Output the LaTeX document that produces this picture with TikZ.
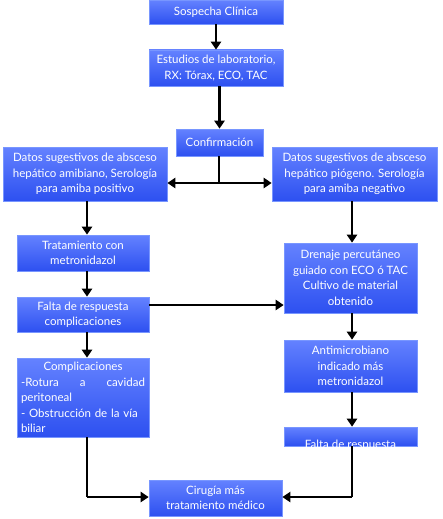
\documentclass[tikz,border=0pt]{standalone}
\usepackage{fontspec}
\setmainfont{Lato}
\usetikzlibrary{arrows.meta,calc}
\definecolor{boxtop}{RGB}{100,130,255}
\definecolor{boxbot}{RGB}{45,80,240}
\definecolor{boxline}{RGB}{120,150,255}
\tikzset{
  bx/.style={draw=boxline, line width=0.6pt, top color=boxtop, bottom color=boxbot,
    text=white, font=\fontsize{11.5}{15.5}\selectfont, align=center,
    inner sep=0pt, minimum width=#1},
  arr/.style={line width=2.2pt, -{Triangle[length=8pt,width=10pt]}},
  ln/.style={line width=2.2pt},
}
\begin{document}
\begin{tikzpicture}[x=1pt,y=1pt]
\useasboundingbox (0,0) rectangle (442,-519);
\node[bx=134pt, minimum height=24pt] (s1) at (216,-12) {Sospecha Clínica};
\node[bx=134pt, minimum height=36pt] (s2) at (216,-68) {Estudios de laboratorio,\\RX: Tórax, ECO, TAC};
\node[bx=87pt, minimum height=27pt] (conf) at (219.5,-142.5) {Confirmación};
\node[bx=164pt, minimum height=54pt] (L1) at (85,-174) {Datos sugestivos de absceso\\hepático amibiano, Serología\\para amiba positivo};
\node[bx=165pt, minimum height=54pt] (R1) at (354.5,-174) {Datos sugestivos de absceso\\hepático piógeno. Serología\\para amiba negativo};
\node[bx=132pt, minimum height=36pt] (L2) at (83,-253) {Tratamiento con\\metronidazol};
\node[bx=132pt, minimum height=35pt] (L3) at (83,-314.5) {Falta de respuesta\\complicaciones};
\node[bx=132pt, minimum height=79pt, text width=124pt, align=left] (L4) at (83,-397.5)
  {\makebox[124pt][c]{Complicaciones}\\-Rotura\hfill a\hfill cavidad\\peritoneal\\- Obstrucción de la vía\\biliar};
\node[bx=133pt, minimum height=70pt] (R2) at (350.5,-278) {Drenaje percutáneo\\guiado con ECO ó TAC\\Cultivo de material\\obtenido};
\node[bx=133pt, minimum height=52pt] (R3) at (350.5,-366) {Antimicrobiano\\indicado más\\metronidazol};
\node[bx=133pt, minimum height=19pt] (R4) at (350.5,-436.5) {};
\begin{scope}
  \clip (R4.south west) rectangle (R4.north east);
  \node[text=white, font=\fontsize{11.5}{15.5}\selectfont, anchor=base] (R4t) at ($(R4.south)+(0,-2.5)$) {Falta de respuesta};
\end{scope}
\node[bx=133pt, minimum height=36pt] (bot) at (215.5,-498) {Cirugía más\\tratamiento médico};
\coordinate (xl) at (87,0);
\coordinate (xr) at (352,0);
\coordinate (br) at (219,-183);
\coordinate (h1) at (0,-305);
\coordinate (jl) at (87,-497);
\coordinate (jr) at (352,-497);
\draw[arr] (s1) -- (s2);
\draw[arr] (s2.south -| conf) -- (conf);
\draw[ln] (conf.south -| br) -- (br);
\draw[arr] (br) -- (br -| L1.east);
\draw[arr] (br) -- (br -| R1.west);
\draw[arr] (L1.south -| xl) -- (L2.north -| xl);
\draw[arr] (L2.south -| xl) -- (L3.north -| xl);
\draw[arr] (L3.south -| xl) -- (L4.north -| xl);
\draw[arr] (L3.east |- h1) -- (R2.west |- h1);
\draw[arr] (R1.south -| xr) -- (R2.north -| xr);
\draw[arr] (R2.south -| xr) -- (R3.north -| xr);
\draw[arr] (R3.south -| xr) -- (R4.north -| xr);
\draw[ln] (L4.south -| xl) -- (jl);
\draw[arr] (jl) -- (jl -| bot.west);
\draw[ln] (R4.south -| xr) -- (jr);
\draw[arr] (jr) -- (jr -| bot.east);
\end{tikzpicture}
\end{document}
